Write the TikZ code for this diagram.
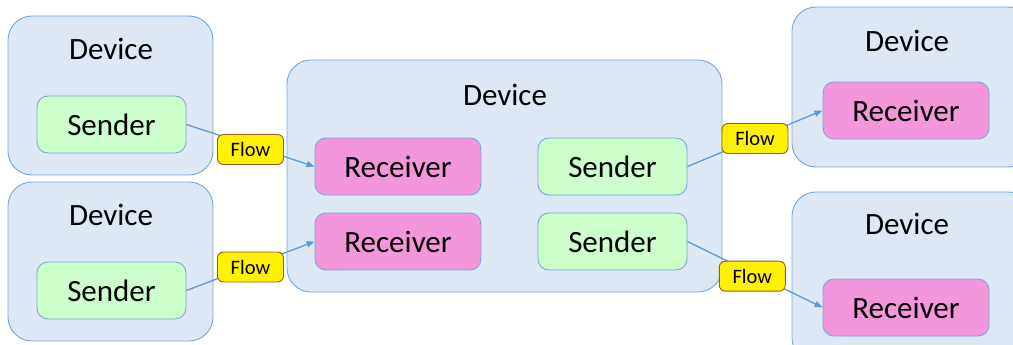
\documentclass[tikz,border=0pt]{standalone}
\usepackage{fontspec}
\setmainfont{Carlito}
\usetikzlibrary{arrows.meta}
\definecolor{devfill}{HTML}{DEE8F4}
\definecolor{devline}{HTML}{76A8DA}
\definecolor{sendfill}{HTML}{CCFFCC}
\definecolor{recvfill}{HTML}{F396DC}
\definecolor{flowline}{HTML}{5B9BD5}
\definecolor{flowedge}{HTML}{9C5B1E}
\tikzset{
  device/.style={draw=devline, fill=devfill, line width=0.9pt, rounded corners=24pt,
    minimum width=#1, inner sep=0pt},
  devlabel/.style={font=\fontsize{31}{34}\selectfont, inner sep=0pt},
  sender/.style={draw=devline, fill=sendfill, line width=0.9pt, rounded corners=11pt,
    minimum width=149pt, minimum height=57pt, inner sep=0pt,
    font=\fontsize{31}{34}\selectfont},
  receiver/.style={draw=devline, fill=recvfill, line width=0.9pt, rounded corners=11pt,
    minimum width=166pt, minimum height=57pt, inner sep=0pt,
    font=\fontsize{31}{34}\selectfont},
  flow/.style={draw=flowedge, fill=yellow, line width=0.9pt, rounded corners=6pt,
    minimum width=66pt, minimum height=30pt, inner sep=0pt,
    font=\fontsize{20.5}{23}\selectfont},
  link/.style={draw=flowline, line width=1.3pt, -{Triangle[length=8pt,width=6pt]}}
}
\begin{document}
\begin{tikzpicture}[x=1pt,y=-1pt]
\useasboundingbox (0,0) rectangle (1013,345);
\begin{scope}
\clip (0,0) rectangle (1013,345);
% device frames
\node[device=205pt, minimum height=159pt] (d1) at (110.5,95.5) {};
\node[device=205pt, minimum height=159pt] (d2) at (110.5,261.5) {};
\node[device=435pt, minimum height=232pt] (d3) at (504.5,176) {};
\node[device=240pt, minimum height=160pt] (d4) at (912,87) {};
\node[device=240pt, minimum height=170pt] (d5) at (912,277) {};
\end{scope}
% device titles
\node[devlabel] (t1) at (111,49) {Device};
\node[devlabel] (t2) at (111,215) {Device};
\node[devlabel] (t3) at (505,95) {Device};
\node[devlabel] (t4) at (907,41) {Device};
\node[devlabel] (t5) at (907,224) {Device};
% senders and receivers
\node[sender] (s1) at (111.5,124.5) {Sender};
\node[sender] (s2) at (111.5,290.5) {Sender};
\node[receiver] (ra) at (398,166.5) {Receiver};
\node[receiver] (rb) at (398,241.5) {Receiver};
\node[sender] (sc) at (612.5,166.5) {Sender};
\node[sender] (sd) at (612.5,241.5) {Sender};
\node[receiver] (re) at (906,110.5) {Receiver};
\node[receiver] (rf) at (906,307.5) {Receiver};
% flows
\draw[link] (s1.east) -- node[flow, pos=0.5, yshift=-4pt] (f1) {Flow} (ra.west);
\draw[link] (s2.east) -- node[flow, pos=0.5, yshift=-1pt] (f2) {Flow} (rb.west);
\draw[link] (sc.east) -- node[flow, pos=0.5] (f3) {Flow} (re.west);
\draw[link] (sd.east) -- node[flow, pos=0.48, yshift=-3pt] (f4) {Flow} (rf.west);
\end{tikzpicture}
\end{document}
